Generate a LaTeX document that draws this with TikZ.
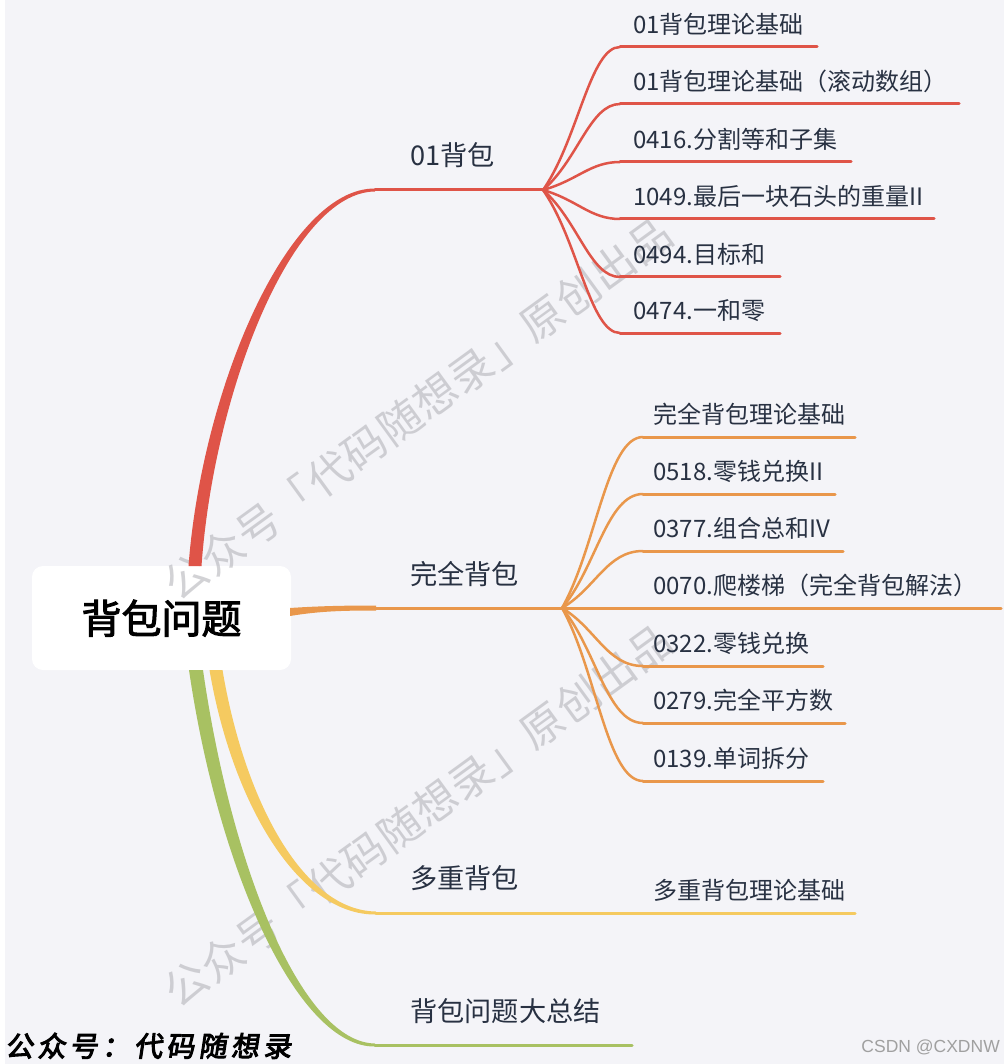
\documentclass[tikz,border=0pt]{standalone}
\usepackage{fontspec}
\setmainfont{Noto Sans CJK SC}
\newfontfamily\rootfont{Noto Sans CJK SC}[FakeBold=2.5]
\newfontfamily\brushfont{Noto Sans CJK SC}[FakeBold=3.5,FakeSlant=0.15]
\newfontfamily\csdnfont{Liberation Sans}
\definecolor{bg}{HTML}{F4F4F8}
\definecolor{txt}{HTML}{283142}
\definecolor{cred}{HTML}{DF5448}
\definecolor{corange}{HTML}{E9974B}
\definecolor{cyellow}{HTML}{F5CA60}
\definecolor{cgreen}{HTML}{A8C162}
\definecolor{wmgray}{HTML}{B4B4BA}
\definecolor{csdngray}{HTML}{A0A0A0}
\newcommand\gp{\hspace{4.25pt}}
\newcommand\wg{\hspace{1pt}}
\newcommand\wmtext{公\wg 众\wg 号\wg 「\wg 代\wg 码\wg 随\wg 想\wg 录\wg 」\wg 原\wg 创\wg 出\wg 品}
\begin{document}
\begin{tikzpicture}[x=1pt,y=-1pt,
  leaf/.style={font=\fontsize{24}{28}\selectfont, text=txt, inner sep=0pt, anchor=base west},
  mainlbl/.style={font=\fontsize{27.2}{32}\selectfont, text=txt, inner sep=0pt, anchor=base west},
  thinline/.style={line width=3pt, line cap=round},
  fanline/.style={line width=2.5pt, line cap=round},
  wmark/.style={font=\fontsize{43}{50}\selectfont, text=wmgray, text opacity=0.6, rotate=36, inner sep=0pt}
]
\fill[bg] (0,0) rectangle (1004,1064);
\fill[white] (0,0) rectangle (5,1064);
\useasboundingbox (0,0) rectangle (1004,1064);

% root
\node[fill=white, rounded corners=11pt, minimum width=259pt, minimum height=104pt, inner sep=0pt] (root) at (161.5,618) {};
\node[font=\rootfont\fontsize{40}{48}\selectfont, text=black, inner sep=0pt, anchor=base] (roottxt) at (161.5,633.5) {背包问题};

% watermarks
\node[wmark] (wm1) at (418,409) {\wmtext};
\node[wmark] (wm2) at (418,816) {\wmtext};

% ---------- red branch: 01背包 ----------
\coordinate (r0) at (375,190);
\coordinate (rf) at (543,190);
\fill[cred] (188.5,566) .. controls (202,389) and (287.6,187.9) .. (375,188.5)
  -- (375,191.5) .. controls (292.4,192.1) and (214,391) .. (201.5,566) -- cycle;
\draw[cred,thinline] (r0) -- (rf);
\node[mainlbl] (n01) at (410,166) {01背包};
\foreach \y/\e/\t [count=\i] in {
  47/817/{01背包理论基础},
  104/959/{01背包理论基础（滚动数组）},
  162/851/{0416.分割等和子集},
  219/934/{1049.最后一块石头的重量II},
  277/780/{0494.目标和},
  333/780/{0474.一和零}}{
  \coordinate (rs\i) at (620,\y);
  \coordinate (re\i) at (\e,\y);
  \coordinate (rc\i) at (578,{190+0.35*(\y-190)});
  \draw[cred,fanline] (rf) .. controls (rc\i) and +(-30,0) .. (rs\i);
  \draw[cred,thinline] (rs\i) -- (re\i);
  \node[leaf] (rl\i) at (633,\y-13.5) {\t};
}

% ---------- orange branch: 完全背包 ----------
\coordinate (o0) at (376,608);
\coordinate (of) at (562,608);
\coordinate (oend) at (1001,608);
\fill[corange] (290,608) .. controls (320,606) and (345,605.5) .. (376,605.5)
  -- (376,610.5) .. controls (345,610.5) and (320,611) .. (290,616) -- cycle;
\draw[corange,thinline] (o0) -- (of);
\draw[corange,thinline] (of) -- (oend);
\node[mainlbl] (nfull) at (410,584) {完全背包};
\foreach \y/\e/\t [count=\i] in {
  437/855/{完全背包理论基础},
  494/835/{0518.零钱兑换II},
  551/843/{0377.组合总和IV},
  666/823/{0322.零钱兑换},
  723/845/{0279.完全平方数},
  781/823/{0139.单词拆分}}{
  \coordinate (os\i) at (643,\y);
  \coordinate (oe\i) at (\e,\y);
  \coordinate (oc\i) at (596,{608+0.35*(\y-608)});
  \draw[corange,fanline] (of) .. controls (oc\i) and +(-36,0) .. (os\i);
  \draw[corange,thinline] (os\i) -- (oe\i);
  \node[leaf] (ol\i) at (653,\y-13.5) {\t};
}
\node[leaf] (ol0070) at (653,594.5) {0070.爬楼梯（完全背包解法）};

% ---------- yellow branch: 多重背包 ----------
\coordinate (y0) at (376,913);
\coordinate (ym) at (640,913);
\coordinate (ye) at (855,913);
\fill[cyellow] (209.5,670) .. controls (232,802) and (298,915.5) .. (376,914.5)
  -- (376,911.5) .. controls (302,910.5) and (244,798) .. (222.5,670) -- cycle;
\draw[cyellow,thinline] (y0) -- (ym);
\draw[cyellow,thinline] (ym) -- (ye);
\node[mainlbl] (nmulti) at (410,888) {多重背包};
\node[leaf] (yl1) at (653,899.5) {多重背包理论基础};

% ---------- green branch: 背包问题大总结 ----------
\coordinate (g0) at (375,1045);
\coordinate (ge) at (632,1045);
\fill[cgreen] (189,670) .. controls (218.5,872) and (298,1047.5) .. (375,1046.5)
  -- (375,1043.5) .. controls (302,1042.5) and (231.5,868) .. (203,670) -- cycle;
\draw[cgreen,thinline] (g0) -- (ge);
\node[mainlbl] (nsum) at (410,1021) {背包问题大总结};

% ---------- footer texts ----------
\node[font=\brushfont\fontsize{28}{32}\selectfont, text=black, inner sep=0pt, anchor=base west] (gzh) at (5,1056.5)
  {公\gp 众\gp 号\gp ：\gp 代\gp 码\gp 随\gp 想\gp 录};
\node[font=\csdnfont\fontsize{17.5}{20}\selectfont, text=csdngray, inner sep=0pt, anchor=base east] (csdn) at (1000,1052) {CSDN @CXDNW};
\end{tikzpicture}
\end{document}
